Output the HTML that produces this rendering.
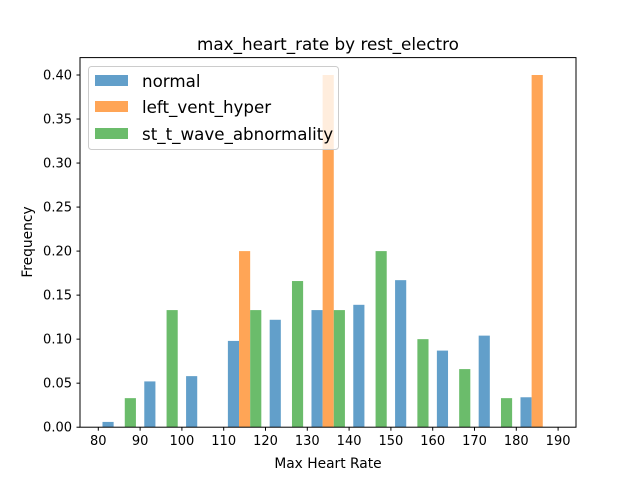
<!DOCTYPE html>
<html><head><meta charset="utf-8"><style>
body{margin:0;background:#fff}
svg text{font-family:"DejaVu Sans","Liberation Sans",sans-serif;fill:#000}
</style></head><body>
<svg id="chart" width="640" height="480" xmlns="http://www.w3.org/2000/svg">
<rect x="0" y="0" width="640" height="480" fill="#fff"/>
<text x="328" y="50" font-size="16.8" text-anchor="middle">max_heart_rate by rest_electro</text>
<g id="bars"></g>
<rect x="80" y="57.6" width="496" height="369.6" fill="none" stroke="#000" stroke-width="1"/>
<g id="xticks"></g><g id="yticks"></g>
<text x="328" y="468" font-size="13.8" text-anchor="middle">Max Heart Rate</text>
<text x="0" y="0" font-size="13.8" text-anchor="middle" transform="translate(32,242) rotate(-90)">Frequency</text>
<g>
<rect x="88.5" y="66.5" width="250" height="83" rx="3" fill="#fff" fill-opacity="0.8" stroke="#ccc"/>
<rect x="95" y="75" width="33" height="11" fill="#629fca"/>
<text x="142" y="87" font-size="16.7">normal</text>
<rect x="95" y="101" width="33" height="11" fill="#ffa556"/>
<text x="142" y="113" font-size="16.7">left_vent_hyper</text>
<rect x="95" y="128" width="33" height="11" fill="#6bbc6b"/>
<text x="142" y="140" font-size="16.7">st_t_wave_abnormality</text>
</g>
</svg>
<script>
const binEdges=[80,90,100,110,120,130,140,150,160,170,180,190];
const normalVals=[0.006,0.052,0.058,0.098,0.122,0.133,0.139,0.167,0.087,0.104,0.034];
const lvhVals=[0,0,0,0.2,0,0.4,0,0,0,0,0.4];
const sttVals=[0.033,0.133,0,0.133,0.166,0.133,0.2,0.1,0.066,0.033,0];
const xTickVals=[80,90,100,110,120,130,140,150,160,170,180,190];
const yTickLabels=["0.00","0.05","0.10","0.15","0.20","0.25","0.30","0.35","0.40"];
const NS="http://www.w3.org/2000/svg";
function xs(v){return 98.3+(v-80)*4.18;}
function ys(v){return 427.2-v*880.5;}
const series=[{vals:normalVals,color:"#629fca",name:"normal"},{vals:lvhVals,color:"#ffa556",name:"left-vent-hyper"},{vals:sttVals,color:"#6bbc6b",name:"st-t-wave"}];
const bars=document.getElementById('bars');
for(let i=0;i<binEdges.length-1;i++){
 const x0=xs(binEdges[i]),x1=xs(binEdges[i+1]);const W=x1-x0;const bw=0.8*W/3;
 series.forEach((s,k)=>{
  const v=s.vals[i];if(!v)return;
  const r=document.createElementNS(NS,'rect');
  r.setAttribute('x',x0+0.1*W+k*bw);r.setAttribute('width',bw);
  r.setAttribute('y',ys(v));r.setAttribute('height',ys(0)-ys(v));
  r.setAttribute('fill',s.color);
  
  
  bars.appendChild(r);
 });
}
const xt=document.getElementById('xticks');
xTickVals.forEach(v=>{
 const g=document.createElementNS(NS,'g');
 
 
 g.innerHTML=`<line x1="${xs(v)}" x2="${xs(v)}" y1="427.2" y2="430.7" stroke="#000"/><text x="${xs(v)}" y="445" font-size="13" text-anchor="middle">${v}</text>`;
 xt.appendChild(g);
});
const yt=document.getElementById('yticks');
yTickLabels.forEach(l=>{
 const v=parseFloat(l);const y=ys(v);
 const g=document.createElementNS(NS,'g');
 
 
 g.innerHTML=`<line x1="76.5" x2="80" y1="${y}" y2="${y}" stroke="#000"/><text x="72" y="${y+4.5}" font-size="13" text-anchor="end">${l}</text>`;
 yt.appendChild(g);
});
</script>
</body></html>
